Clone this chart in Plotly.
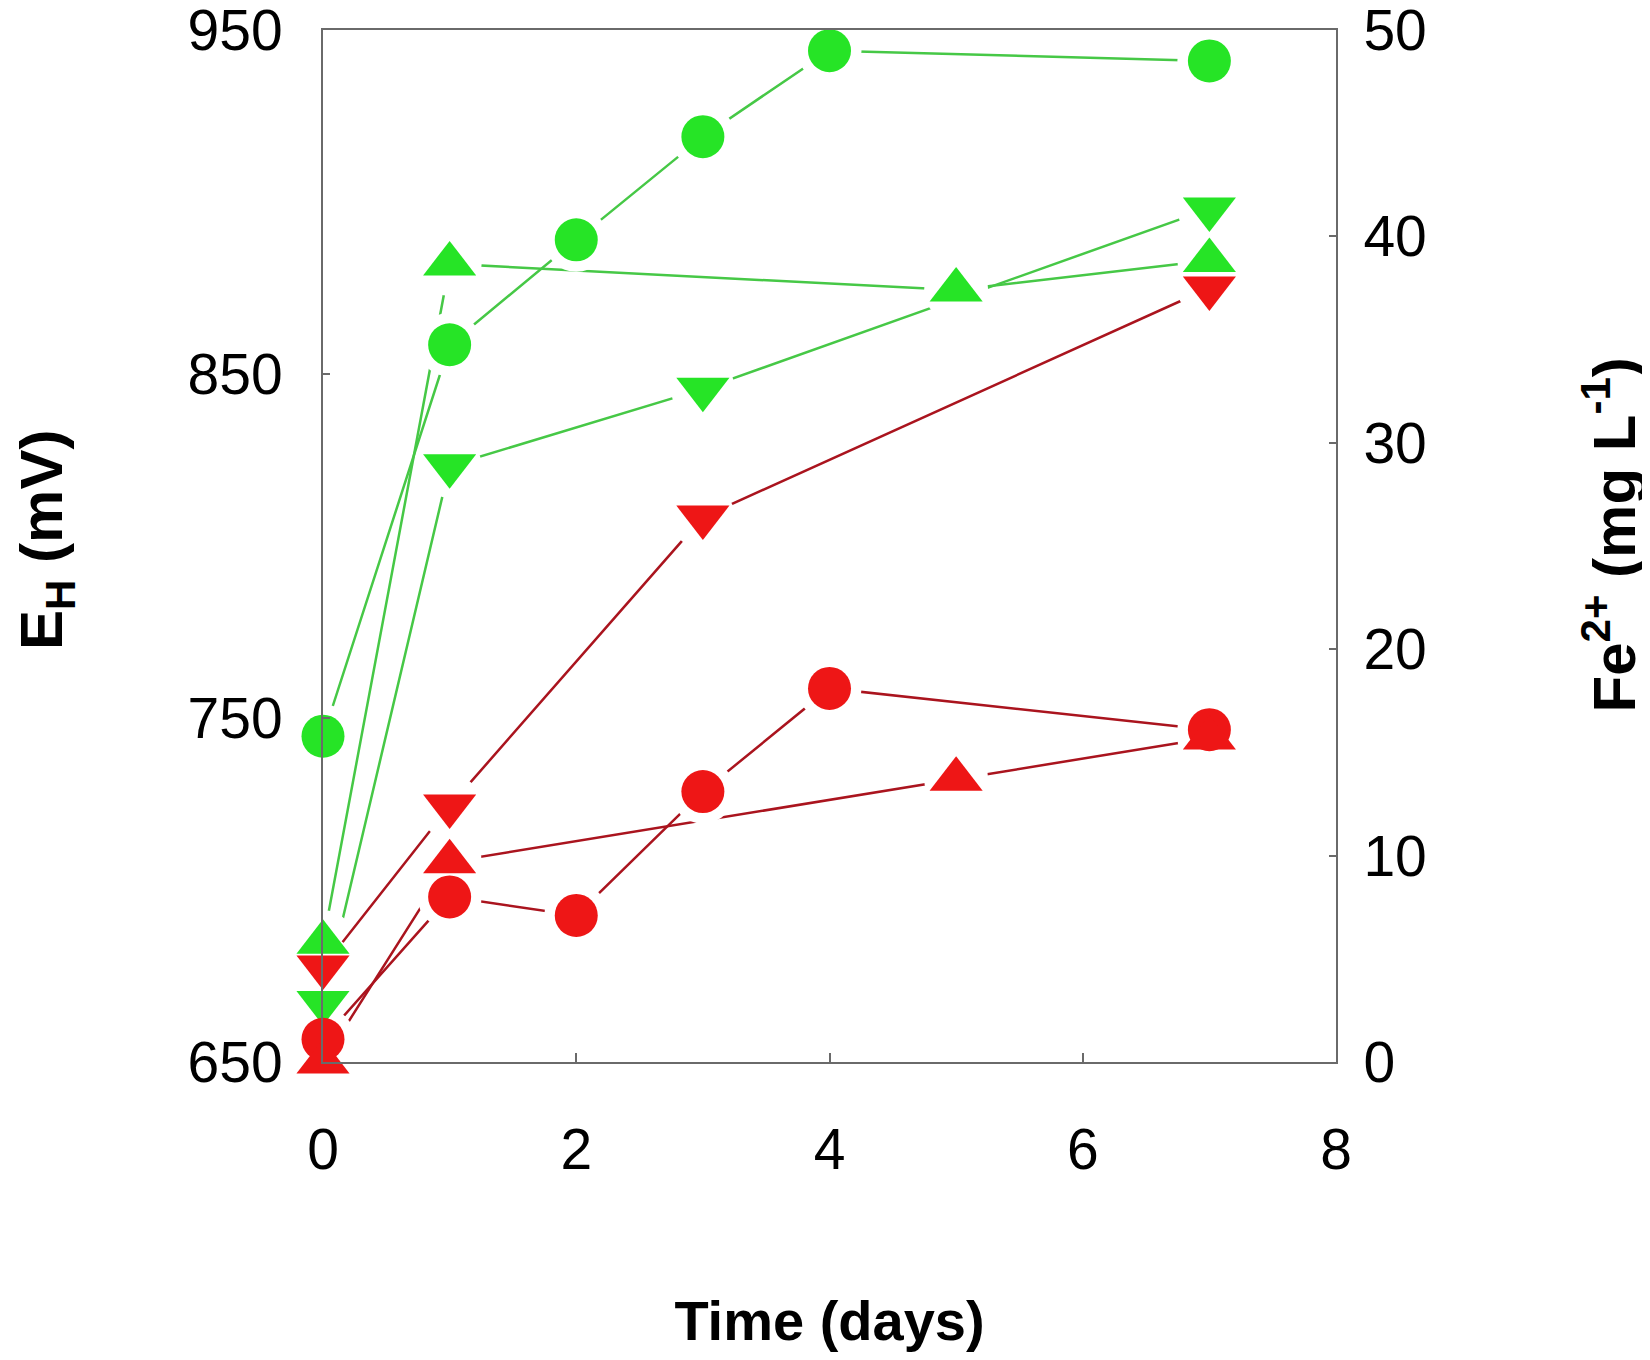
import plotly.graph_objects as go

# sampling days for each marker shape
days_circle = [0, 1, 2, 3, 4, 7]
days_up = [0, 1, 5, 7]
days_down = [0, 1, 3, 7]

# E_H (mV) - green series, left axis
eh_circle = [744.7, 858.5, 889.0, 919.0, 944.0, 941.0]
eh_up = [684.8, 882.0, 874.4, 883.0]
eh_down = [667.3, 823.3, 845.6, 898.0]

# Fe2+ (mg/L) - red series, right axis
fe_circle = [1.1, 8.0, 7.1, 13.1, 18.1, 16.1]
fe_up = [0.0, 9.7, 13.7, 15.7]
fe_down = [4.6, 12.4, 26.4, 37.5]

x_ticks = [0, 2, 4, 6, 8]
eh_ticks = [650, 750, 850, 950]
fe_ticks = [0, 10, 20, 30, 40, 50]

GREEN = "rgb(38,228,38)"
GREEN_LINE = "rgb(70,200,70)"
RED = "rgb(238,22,22)"
RED_LINE = "rgb(170,20,30)"
AXIS = "#6a6a6a"

# (x, y, line/halo axis, marker axis, symbol, marker colour, line colour)
series = [
    (days_circle, eh_circle, "y", "y3", "circle", GREEN, GREEN_LINE),
    (days_up, eh_up, "y", "y3", "triangle-up", GREEN, GREEN_LINE),
    (days_down, eh_down, "y", "y3", "triangle-down", GREEN, GREEN_LINE),
    (days_circle, fe_circle, "y2", "y4", "circle", RED, RED_LINE),
    (days_up, fe_up, "y2", "y4", "triangle-up", RED, RED_LINE),
    (days_down, fe_down, "y2", "y4", "triangle-down", RED, RED_LINE),
]

fig = go.Figure()

# lines, with white halos so they stop short of the symbols
for x, y, ax, max_, sym, mcol, lcol in series:
    fig.add_trace(go.Scatter(x=x, y=y, yaxis=ax, mode="lines",
                             line=dict(color=lcol, width=2.5),
                             hoverinfo="skip", cliponaxis=False))
for x, y, ax, max_, sym, mcol, lcol in series:
    fig.add_trace(go.Scatter(x=x, y=y, yaxis=ax, mode="markers",
                             marker=dict(symbol="circle", size=64, color="white", line=dict(width=0)),
                             hoverinfo="skip", cliponaxis=False))

# the symbols themselves, on hidden overlay axes so they sit on top
for x, y, ax, max_, sym, mcol, lcol in series:
    size = 43 if sym == "circle" else 46
    fig.add_trace(go.Scatter(x=x, y=y, yaxis=max_, mode="markers",
                             marker=dict(symbol=sym, size=size, color=mcol, line=dict(width=0)),
                             cliponaxis=False))

tick_font = dict(family="Liberation Sans, Arial, sans-serif", size=57, color="black")
xtitle_font = dict(family="Liberation Sans, Arial, sans-serif", size=56, color="black")
ytitle_font = dict(family="Liberation Sans, Arial, sans-serif", size=60, color="black")

fig.update_layout(
    width=1650, height=1360,
    margin=dict(l=315, r=322, t=22, b=306),
    paper_bgcolor="white", plot_bgcolor="white",
    showlegend=False,
    xaxis=dict(range=[0, 8], tickvals=x_ticks, ticks="inside", ticklen=9, tickwidth=2,
               tickcolor=AXIS, showline=True, linecolor=AXIS, linewidth=2, mirror=True,
               showgrid=False, zeroline=False, tickfont=tick_font, ticklabelstandoff=37,
               automargin=False,
               title=dict(text="<b>Time (days)</b>", font=xtitle_font, standoff=120)),
    yaxis=dict(range=[650, 950], tickvals=eh_ticks, ticks="inside", ticklen=7, tickwidth=2,
               tickcolor=AXIS, showline=True, linecolor=AXIS, linewidth=2,
               showgrid=False, zeroline=False, tickfont=tick_font, ticklabelstandoff=27,
               ticklabeloverflow="allow", automargin=False),
    yaxis2=dict(range=[0, 50], tickvals=fe_ticks, overlaying="y", side="right",
                ticks="inside", ticklen=7, tickwidth=2, tickcolor=AXIS,
                showline=True, linecolor=AXIS, linewidth=2,
                showgrid=False, zeroline=False, tickfont=tick_font, ticklabelstandoff=14,
                ticklabeloverflow="allow", automargin=False),
    yaxis3=dict(range=[650, 950], overlaying="y", visible=False, automargin=False),
    yaxis4=dict(range=[0, 50], overlaying="y", visible=False, automargin=False),
)

# y-axis titles as rotated annotations (they sit a little above the plot centre)
fig.add_annotation(text="<b>E<sub>H</sub> (mV)</b>", xref="paper", yref="paper",
                   x=-0.2735, y=0.5058, xanchor="center", yanchor="middle",
                   textangle=-90, showarrow=False, font=ytitle_font)
fig.add_annotation(text="<b>Fe<sup>2+</sup> (mg L<sup>-1</sup>)</b>", xref="paper", yref="paper",
                   x=1.2700, y=0.5107, xanchor="center", yanchor="middle",
                   textangle=-90, showarrow=False, font=ytitle_font)

fig.write_html("out.html")
